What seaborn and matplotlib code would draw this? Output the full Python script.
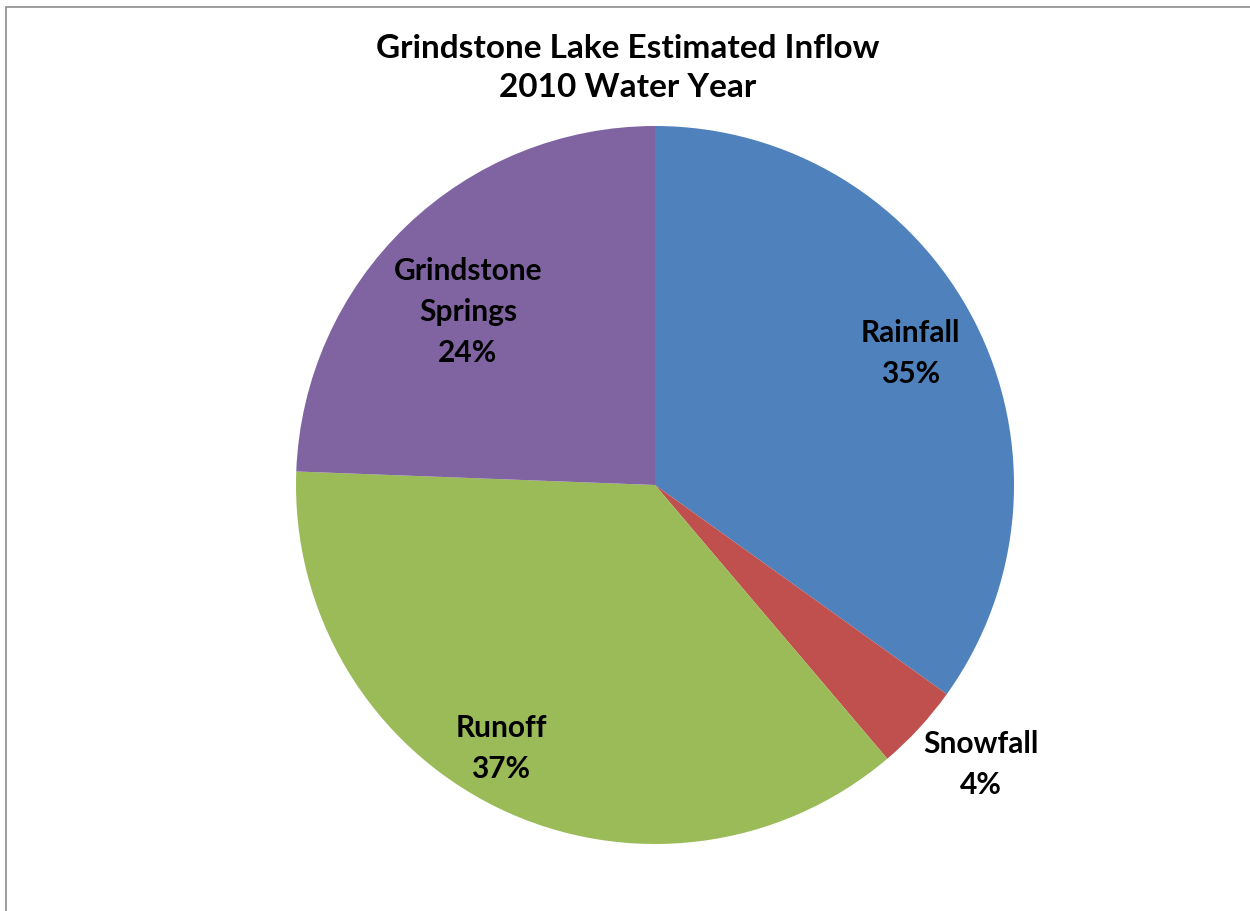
import numpy as np
import matplotlib.pyplot as plt
import seaborn as sns
from matplotlib.patches import Rectangle

# Datos del grafico
categorias = ['Rainfall', 'Snowfall', 'Runoff', 'Grindstone\nSprings']
valores = [34.9, 3.9, 36.8, 24.4]
colores = ['#4F81BD', '#C0504D', '#9BBB59', '#8064A2']

sns.set_theme(style='white')
plt.rcParams['font.family'] = ['Lato', 'DejaVu Sans']

fig = plt.figure(figsize=(12.5, 9.11), dpi=100)
fig.patch.set_facecolor('white')

# marco gris (solo arriba e izquierda visibles)
fig.patches.append(Rectangle((6 / 1250, -0.05), 1.2, 1 - 7 / 911 + 0.05,
                             transform=fig.transFigure, fill=False,
                             edgecolor='#8c8c8c', linewidth=1.2))

ax = fig.add_axes([296 / 1250, 67 / 911, 718 / 1250, 718 / 911])
wedges, _ = ax.pie(valores, colors=colores, startangle=90, counterclock=False,
                   radius=1, wedgeprops={'linewidth': 0})
ax.set_xlim(-1, 1)
ax.set_ylim(-1, 1)
ax.set_aspect('equal')
ax.axis('off')

# distancia y ajuste de angulo de cada etiqueta
dist = [0.80, 1.195, 0.85, 0.71]
ajuste = [0, 2, -4.4, 3.3]
for w, cat, val, d, a in zip(wedges, categorias, valores, dist, ajuste):
    ang = np.deg2rad((w.theta1 + w.theta2) / 2 + a)
    ax.text(d * np.cos(ang), d * np.sin(ang), f'{cat}\n{round(val):d}%',
            ha='center', va='center', fontsize=21.5, fontweight='bold',
            color='black', linespacing=1.55, clip_on=False)

fig.text(628 / 1250, 1 - 68 / 911, 'Grindstone Lake Estimated Inflow\n2010 Water Year',
         ha='center', va='center', fontsize=24, fontweight='bold',
         color='black', linespacing=1.45)

fig.savefig('out.png', dpi=100)
